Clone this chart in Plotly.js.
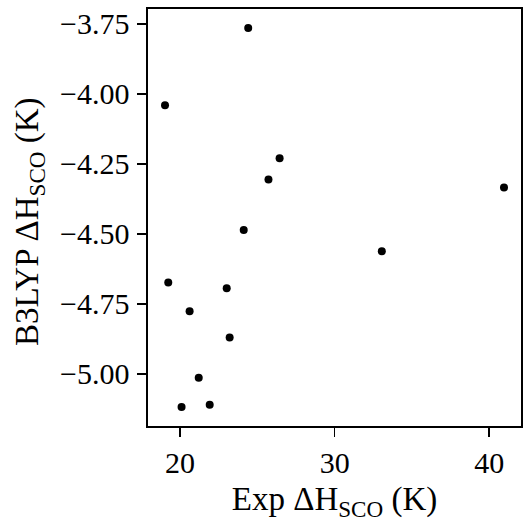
<!DOCTYPE html>
<html>
<head>
<meta charset="utf-8">
<script src="https://cdn.plot.ly/plotly-3.0.1.min.js"></script>
<style>html,body{margin:0;padding:0;background:#fff;}#chart{width:525px;height:523px;}</style>
</head>
<body>
<div id="chart"></div>
<script>
const expDH = [24.41, 19.03, 26.44, 25.72, 40.95, 24.12, 33.05, 19.24, 23.02, 20.62, 23.21, 21.21, 20.10, 21.92];
const b3lypDH = [-3.765, -4.041, -4.230, -4.306, -4.334, -4.486, -4.562, -4.674, -4.694, -4.776, -4.870, -5.014, -5.118, -5.110];
const xTicks = [20, 30, 40];
const yTicks = [-3.75, -4.00, -4.25, -4.50, -4.75, -5.00];
const xTitle = 'Exp ΔH<sub>SCO</sub> (K)';
const yTitle = 'B3LYP ΔH<sub>SCO</sub> (K)';

const font = {family: '"Liberation Serif", "Times New Roman", serif', color: '#000'};
const trace = {
  x: expDH, y: b3lypDH, type: 'scatter', mode: 'markers',
  marker: {color: '#000', size: 8}, hoverinfo: 'skip'
};
const axisCommon = {
  showgrid: false, zeroline: false, showline: true, mirror: true,
  linecolor: '#000', linewidth: 1.6, ticks: 'outside', ticklen: 9, tickwidth: 1.6,
  tickcolor: '#000', tickfont: Object.assign({size: 30}, font), automargin: false
};
const layout = {
  width: 525, height: 523,
  margin: {l: 148, r: 4, t: 9, b: 97},
  paper_bgcolor: '#fff', plot_bgcolor: '#fff',
  showlegend: false,
  xaxis: Object.assign({}, axisCommon, {
    range: [17.93, 42.05], tickvals: xTicks, ticktext: xTicks.map(String),
    title: {text: xTitle, font: Object.assign({size: 33}, font), standoff: 9}
  }),
  yaxis: Object.assign({}, axisCommon, {
    range: [-5.186, -3.697], tickvals: yTicks, tickformat: '.2f',
    ticklabelstandoff: 2
  }),
  annotations: [{
    text: yTitle, xref: 'paper', yref: 'paper', x: -0.318, y: 0.49,
    xanchor: 'center', yanchor: 'middle', textangle: -90, showarrow: false,
    font: Object.assign({size: 33}, font)
  }]
};
Plotly.newPlot('chart', [trace], layout, {displayModeBar: false, staticPlot: true});
</script>
</body>
</html>
